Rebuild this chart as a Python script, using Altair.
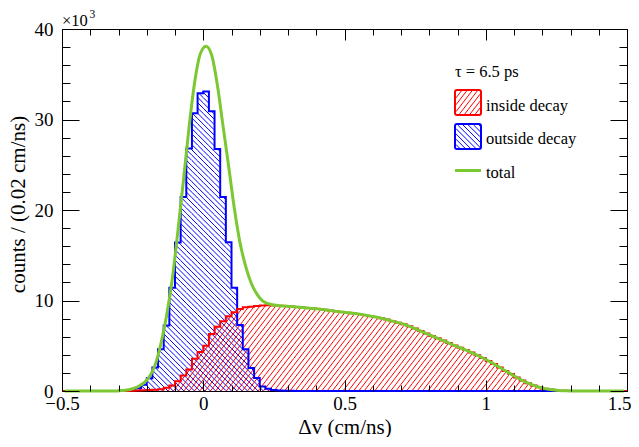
import altair as alt
import numpy as np
import pandas as pd

# ---------------- data (counts in units of 10^3 per 0.02 cm/ns bin) ----------------
X_MIN, X_MAX, Y_MAX = -0.5, 1.5, 40.0
BIN_W = 0.02

blue_start = -0.30   # left edge of first listed bin ("outside decay")
blue_counts = [0.02, 0.05, 0.12, 0.3, 0.7, 1.4, 2.6, 4.6, 7.25, 11.4,
               16.4, 21.45, 26.8, 30.7, 32.9, 33.1, 30.9, 26.75, 21.45, 16.45,
               11.4, 7.3, 4.6, 2.55, 1.45, 0.5, 0.25, 0.1, 0.05, 0.03,
               0.02, 0.01]

red_start = -0.30    # left edge of first listed bin ("inside decay")
red_counts = [0.0, 0.01, 0.03, 0.05, 0.08, 0.1, 0.13, 0.2, 0.35, 0.6,
              1.08, 1.7, 2.37, 3.55, 4.3, 5.0, 6.3, 7.1, 7.7, 8.26,
              8.7, 9.07, 9.25, 9.3, 9.38, 9.45, 9.47, 9.45, 9.42, 9.38,
              9.33, 9.28, 9.22, 9.17, 9.12, 9.05, 8.98, 8.9, 8.8, 8.72,
              8.65, 8.58, 8.5, 8.4, 8.28, 8.18, 8.05, 7.9, 7.72, 7.55,
              7.38, 7.15, 6.9, 6.62, 6.35, 6.08, 5.82, 5.57, 5.3, 5.02,
              4.78, 4.52, 4.25, 3.95, 3.65, 3.32, 2.97, 2.6, 2.22, 1.87,
              1.5, 1.15, 0.87, 0.62, 0.42, 0.26, 0.16, 0.09, 0.04, 0.02]

green_start = -0.29  # centre of first listed bin ("total", smooth curve)
green_counts = [0.05, 0.1, 0.25, 0.5, 0.9, 1.6, 2.9, 5.2, 8.3, 12.3,
                17.6, 23.3, 29.2, 34.2, 37.3, 38.1, 37.1, 33.8, 29.3, 24.8,
                20.2, 16.4, 13.8, 11.9, 10.7, 9.95, 9.65, 9.5, 9.42, 9.38,
                9.33, 9.28, 9.22, 9.17, 9.12, 9.05, 8.98, 8.9, 8.8, 8.72,
                8.65, 8.58, 8.5, 8.4, 8.28, 8.18, 8.05, 7.9, 7.72, 7.55,
                7.38, 7.15, 6.9, 6.62, 6.35, 6.08, 5.82, 5.57, 5.3, 5.02,
                4.78, 4.52, 4.25, 3.95, 3.65, 3.32, 2.97, 2.6, 2.22, 1.87,
                1.5, 1.15, 0.87, 0.62, 0.42, 0.26, 0.16, 0.09, 0.04, 0.02]

x_major = [-0.5, 0, 0.5, 1, 1.5]
x_minor = [-0.4, -0.3, -0.2, -0.1, 0.1, 0.2, 0.3, 0.4, 0.6, 0.7, 0.8, 0.9,
           1.1, 1.2, 1.3, 1.4]
y_major = [0, 10, 20, 30, 40]
y_minor = [2, 4, 6, 8, 12, 14, 16, 18, 22, 24, 26, 28, 32, 34, 36, 38]

legend_header = "τ = 6.5 ps"
legend_labels = ["inside decay", "outside decay", "total"]
x_title = "Δv (cm/ns)"
y_title = "counts / (0.02 cm/ns)"

# ---------------- styling ----------------
W, H = 565, 362
FONT = "Liberation Serif, Times New Roman, DejaVu Serif, serif"
RED, BLUE, GREEN = "#ff0000", "#0000ff", "#7cc832"

NB = int(round((X_MAX - X_MIN) / BIN_W))
edges = np.round(X_MIN + BIN_W * np.arange(NB + 1), 4)
centres = np.round(edges[:-1] + BIN_W / 2, 4)


def full(start, vals):
    arr = np.zeros(NB)
    i0 = int(round((start - X_MIN) / BIN_W))
    arr[i0:i0 + len(vals)] = vals
    return arr


blue_full = full(blue_start, blue_counts)
red_full = full(red_start, red_counts)
green_full = full(green_start - BIN_W / 2, green_counts)

PX = W / (X_MAX - X_MIN)
PY = H / Y_MAX


def seg_in_rect(xa, xb, h, m, s):
    out = []
    lo, hi = min(0.0, h / m), max(0.0, h / m)
    k0 = int(np.floor((xa - hi) / s)) - 1
    k1 = int(np.ceil((xb - lo) / s)) + 1
    for k in range(k0, k1 + 1):
        x0 = max(xa, s * k + lo)
        x1 = min(xb, s * k + hi)
        if x1 - x0 > 1e-6:
            out.append((x0, m * (x0 - s * k), x1, m * (x1 - s * k)))
    return out


def hatch_df(arr, m, s):
    rows = []
    for i, v in enumerate(arr):
        if v <= 0:
            continue
        xa = i * BIN_W * PX
        for x0, y0, x1, y1 in seg_in_rect(xa, xa + BIN_W * PX, v * PY, m, s):
            rows.append({"x": X_MIN + x0 / PX, "y": y0 / PY,
                         "x2": X_MIN + x1 / PX, "y2": y1 / PY})
    return pd.DataFrame(rows)


def step_df(arr):
    return pd.DataFrame({"x": edges, "y": np.append(arr, arr[-1])})


RED_M, BLUE_M, HS = 1.3, -1.0, 5.3

xs = alt.Scale(domain=[X_MIN, X_MAX], nice=False, zero=False)
ys = alt.Scale(domain=[0, Y_MAX], nice=False, zero=False)


def ax(values, size, orient, labels=False, pad=0, title=None, **extra):
    kw = dict(values=values, orient=orient, tickSize={"expr": str(-size)},
              domain=False, grid=False, labels=labels, ticks=True,
              tickColor="black", tickWidth=1, zindex=1, title=title)
    if labels:
        kw.update(labelPadding=pad, format=".1~f", labelFont=FONT,
                  labelFontSize=19, labelColor="black", labelFlush=False,
                  labelOverlap=False)
    kw.update(extra)
    return alt.Axis(**kw)


def rules(df, color, xaxis, yaxis):
    return alt.Chart(df).mark_rule(color=color, strokeWidth=1).encode(
        x=alt.X("x:Q", scale=xs, axis=xaxis),
        y=alt.Y("y:Q", scale=ys, axis=yaxis),
        x2="x2:Q", y2="y2:Q")


blue_hatch = rules(hatch_df(blue_full, BLUE_M, HS), BLUE,
                   ax(x_major, 11, "bottom", True, 14, x_title,
                      titleX=W / 2, titleY=42, titleBaseline="alphabetic",
                      titleAlign="center",
                      labelOffset={"condition": {"test": "datum.value == 1.5",
                                                 "value": -8}, "value": 0}),
                   ax(y_major, 17, "left", True, 26, y_title,
                      titleX=-34, titleY=175, titleAngle=270,
                      titleBaseline="bottom", titleAlign="center"))
red_hatch = rules(hatch_df(red_full, RED_M, HS), RED,
                  ax(x_minor, 6, "bottom"), ax(y_minor, 8, "left"))

blue_line = alt.Chart(step_df(blue_full)).mark_line(
    color=BLUE, strokeWidth=2, interpolate="step-after").encode(
    x=alt.X("x:Q", scale=xs, axis=ax(x_major, 11, "top")),
    y=alt.Y("y:Q", scale=ys, axis=ax(y_major, 17, "right")))
red_line = alt.Chart(step_df(red_full)).mark_line(
    color=RED, strokeWidth=2, interpolate="step-after").encode(
    x=alt.X("x:Q", scale=xs, axis=ax(x_minor, 6, "top")),
    y=alt.Y("y:Q", scale=ys, axis=ax(y_minor, 8, "right")))

green_line = alt.Chart(pd.DataFrame({"x": centres, "y": green_full})).mark_line(
    color=GREEN, strokeWidth=3, interpolate="monotone").encode(
    x=alt.X("x:Q", scale=xs, axis=None),
    y=alt.Y("y:Q", scale=ys, axis=None))

# ---------------- legend (pixel placement) ----------------
LX0, LX1 = 393, 419
boxes = [(61, 86), (95, 120)]


def legend_hatch(top, bottom, m):
    rows = []
    for x0, y0, x1, y1 in seg_in_rect(LX0 + 1, LX1 - 1, bottom - top - 2, m, HS):
        rows.append({"x": x0, "y": bottom - 1 - y0, "x2": x1, "y2": bottom - 1 - y1})
    return pd.DataFrame(rows)


def pix_rules(df, color):
    return alt.Chart(df).mark_rule(color=color, strokeWidth=1).encode(
        x=alt.X("x:Q", scale=None, axis=None), y=alt.Y("y:Q", scale=None, axis=None),
        x2="x2:Q", y2="y2:Q")


one = pd.DataFrame({"a": [0]})
leg = []
for (top, bot), col, m in zip(boxes, [RED, BLUE], [RED_M, BLUE_M]):
    leg.append(pix_rules(legend_hatch(top, bot, m), col))
    leg.append(alt.Chart(one).mark_rect(fill="white", fillOpacity=0, stroke=col,
                                        strokeWidth=2, cornerRadius=2).encode(
        x=alt.value(LX0), x2=alt.value(LX1), y=alt.value(top), y2=alt.value(bot)))
leg.append(alt.Chart(one).mark_rule(color=GREEN, strokeWidth=3).encode(
    x=alt.value(LX0), x2=alt.value(LX1), y=alt.value(141.5)))

texts = pd.DataFrame({"t": [legend_header] + legend_labels,
                      "x": [LX0, LX1 + 5, LX1 + 5, LX1 + 5],
                      "y": [47.5, 82, 115, 149]})
leg.append(alt.Chart(texts).mark_text(font=FONT, fontSize=16.5, align="left",
                                      baseline="alphabetic", color="black").encode(
    x=alt.X("x:Q", scale=None, axis=None), y=alt.Y("y:Q", scale=None, axis=None),
    text="t:N"))

mult = alt.Chart(one).mark_text(font=FONT, fontSize=16.5, align="left",
                                baseline="alphabetic", color="black").encode(
    x=alt.value(0), y=alt.value(-3), text=alt.value("×10"))
mult3 = alt.Chart(one).mark_text(font=FONT, fontSize=11.5, align="left",
                                 baseline="alphabetic", color="black").encode(
    x=alt.value(27.5), y=alt.value(-11), text=alt.value("3"))

chart = alt.layer(blue_hatch, red_hatch, blue_line, red_line, green_line,
                  *leg, mult, mult3).resolve_axis(
    x="independent", y="independent").properties(
    width=W, height=H,
    padding={"left": 54, "top": 21, "right": 4, "bottom": 46},
    autosize=alt.AutoSizeParams(type="none"),
    background="white",
).configure_view(stroke="black", strokeWidth=1).configure_axis(
    titleFont=FONT, titleFontSize=21, titleFontWeight="normal",
    titleColor="black", titlePadding=6)

chart.save("out.html", embed_options={"renderer": "svg", "actions": False})
